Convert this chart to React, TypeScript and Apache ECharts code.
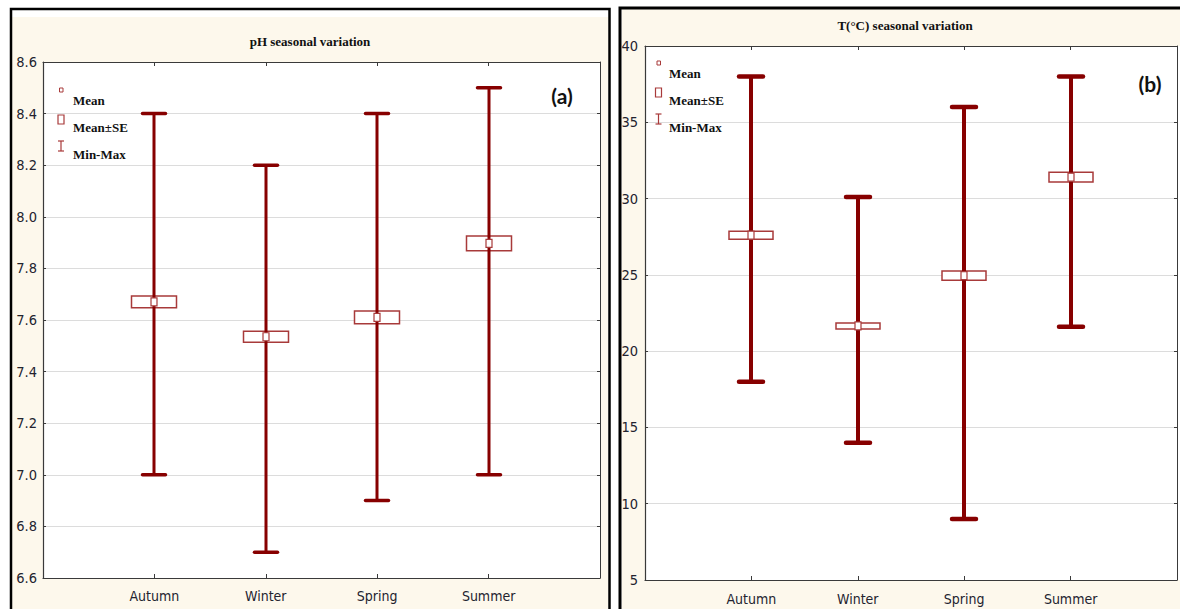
import { useEffect, useRef } from "react";
import * as echarts from "echarts";

// Seasons shown on the x axis (empty slots pad both ends of the axis)
const seasons = ["Autumn", "Winter", "Spring", "Summer"];
const xSlots = ["", ...seasons, ""];

// pH statistics per season
const phMin = [7.0, 6.7, 6.9, 7.0];
const phMax = [8.4, 8.2, 8.4, 8.5];
const phMean = [7.67, 7.535, 7.61, 7.897];
const phSE = [0.023, 0.021, 0.025, 0.029];

// Temperature (°C) statistics per season
const tMin = [18, 14, 9, 21.6];
const tMax = [38, 30.1, 36, 38];
const tMean = [27.6, 21.65, 24.95, 31.4];
const tSE = [0.26, 0.2, 0.3, 0.32];

const legendLabels = ["Mean", "Mean±SE", "Min-Max"];
const panelTitles = ["pH seasonal variation", "T(°C) seasonal variation"];
const panelTags = ["(a)", "(b)"];

const DARK_RED = "#870000";
const BOX_RED = "#a83a3a";
const CREAM = "#fdf8ec";
const GRID_LINE = "#dcdcdc";
const AXIS_LINE = "#3a3a3a";
const LABEL_FONT = '"Liberation Sans Narrow", "DejaVu Sans Condensed", Arial, sans-serif';
const SERIF_FONT = '"Liberation Serif", "Times New Roman", serif';

type MarkStyle = {
  whisker: number;
  capW: number;
  capLine: number;
  boxW: number;
  boxLine: number;
  meanW: number;
  meanH: number;
};

function makeRenderer(st: MarkStyle) {
  return (_params: any, api: any) => {
    const xi = api.value(0);
    const mean = api.value(3);
    const se = api.value(4);
    const lo = api.coord([xi, api.value(1)]);
    const hi = api.coord([xi, api.value(2)]);
    const m = api.coord([xi, mean]);
    const seTop = api.coord([xi, mean + se]);
    const seBot = api.coord([xi, mean - se]);
    const cx = Math.round(lo[0]);
    return {
      type: "group",
      children: [
        {
          type: "rect",
          shape: { x: cx - st.boxW / 2, y: seTop[1], width: st.boxW, height: seBot[1] - seTop[1] },
          style: { fill: "#fff", stroke: BOX_RED, lineWidth: st.boxLine },
        },
        {
          type: "line",
          shape: { x1: cx, y1: hi[1], x2: cx, y2: lo[1] },
          style: { stroke: DARK_RED, lineWidth: st.whisker },
        },
        {
          type: "line",
          shape: { x1: cx - st.capW / 2, y1: hi[1], x2: cx + st.capW / 2, y2: hi[1] },
          style: { stroke: DARK_RED, lineWidth: st.capLine, lineCap: "round" },
        },
        {
          type: "line",
          shape: { x1: cx - st.capW / 2, y1: lo[1], x2: cx + st.capW / 2, y2: lo[1] },
          style: { stroke: DARK_RED, lineWidth: st.capLine, lineCap: "round" },
        },
        {
          type: "rect",
          shape: { x: cx - st.meanW / 2, y: m[1] - st.meanH / 2, width: st.meanW, height: st.meanH },
          style: { fill: "#fff", stroke: BOX_RED, lineWidth: 1.2 },
        },
      ],
    };
  };
}

function legendGraphics(x: number, ys: number[], textX: number) {
  const font = `bold 13px ${SERIF_FONT}`;
  const items: any[] = [];
  // Mean marker
  items.push({
    type: "rect",
    z: 50,
    shape: { x: x - 1.5, y: ys[0] - 12, width: 3.5, height: 4 },
    style: { fill: "#fff", stroke: BOX_RED, lineWidth: 1 },
  });
  // Mean±SE box
  items.push({
    type: "rect",
    z: 50,
    shape: { x: x - 3, y: ys[1] - 12, width: 6, height: 9 },
    style: { fill: "#fff", stroke: BOX_RED, lineWidth: 1.2 },
  });
  // Min-Max bar
  const yT = ys[2] - 13;
  const yB = ys[2] - 3;
  items.push(
    { type: "line", z: 50, shape: { x1: x, y1: yT, x2: x, y2: yB }, style: { stroke: BOX_RED, lineWidth: 1.2 } },
    { type: "line", z: 50, shape: { x1: x - 3, y1: yT, x2: x + 3, y2: yT }, style: { stroke: BOX_RED, lineWidth: 1.2 } },
    { type: "line", z: 50, shape: { x1: x - 3, y1: yB, x2: x + 3, y2: yB }, style: { stroke: BOX_RED, lineWidth: 1.2 } }
  );
  legendLabels.forEach((label, i) => {
    items.push({
      type: "text",
      z: 50,
      x: textX,
      y: ys[i],
      style: {
        text: label,
        font,
        fill: "#111",
        textAlign: "left",
        align: "left",
        textVerticalAlign: "middle",
        verticalAlign: "middle",
      },
    });
  });
  return items;
}

function centeredText(text: string, x: number, y: number, font: string, fill: string) {
  return {
    type: "text",
    z: 50,
    x,
    y,
    style: {
      text,
      font,
      fill,
      textAlign: "center",
      align: "center",
      textVerticalAlign: "middle",
      verticalAlign: "middle",
    },
  };
}

function xAxes(gridIndex: number, labelMargin: number) {
  const tickShown = (_i: number, v: string) => v !== "";
  return [
    {
      type: "category",
      gridIndex,
      data: xSlots,
      boundaryGap: false,
      position: "bottom",
      axisLine: { show: true, lineStyle: { color: AXIS_LINE, width: 1.2 } },
      axisTick: { show: true, inside: true, length: 4, interval: tickShown, lineStyle: { color: AXIS_LINE } },
      axisLabel: {
        interval: 0,
        margin: labelMargin,
        color: "#23232f",
        fontSize: 14,
        fontFamily: LABEL_FONT,
      },
      splitLine: { show: false },
    },
    {
      type: "category",
      gridIndex,
      data: xSlots,
      boundaryGap: false,
      position: "top",
      axisLine: { show: true, lineStyle: { color: AXIS_LINE, width: 1 } },
      axisTick: { show: true, inside: true, length: 4, interval: tickShown, lineStyle: { color: AXIS_LINE } },
      axisLabel: { show: false },
      splitLine: { show: false },
    },
  ];
}

function yAxes(gridIndex: number, min: number, max: number, interval: number, digits: number, margin: number) {
  return [
    {
      type: "value",
      gridIndex,
      min,
      max,
      interval,
      position: "left",
      axisLine: { show: true, lineStyle: { color: AXIS_LINE, width: 1.2 } },
      axisTick: { show: true, inside: true, length: 3, lineStyle: { color: AXIS_LINE } },
      axisLabel: {
        margin,
        color: "#23232f",
        fontSize: 14.5,
        fontFamily: LABEL_FONT,
        formatter: (v: number) => v.toFixed(digits),
      },
      splitLine: { show: true, lineStyle: { color: GRID_LINE, width: 1 } },
    },
    {
      type: "value",
      gridIndex,
      min,
      max,
      interval,
      position: "right",
      axisLine: { show: true, lineStyle: { color: AXIS_LINE, width: 1 } },
      axisTick: { show: true, inside: true, length: 3, lineStyle: { color: AXIS_LINE } },
      axisLabel: { show: false },
      splitLine: { show: false },
    },
  ];
}

export default function App() {
  const ref = useRef<HTMLDivElement>(null);

  useEffect(() => {
    if (!ref.current) return;
    const chart = echarts.init(ref.current, null, { renderer: "svg" });

    const phData = seasons.map((_, i) => [i + 1, phMin[i], phMax[i], phMean[i], phSE[i]]);
    const tData = seasons.map((_, i) => [i + 1, tMin[i], tMax[i], tMean[i], tSE[i]]);

    const phStyle: MarkStyle = { whisker: 3, capW: 23, capLine: 3.5, boxW: 45, boxLine: 1.5, meanW: 6, meanH: 8 };
    const tStyle: MarkStyle = { whisker: 4, capW: 24, capLine: 4.5, boxW: 44, boxLine: 1.5, meanW: 6, meanH: 8 };

    const option: any = {
      animation: false,
      backgroundColor: "#fff",
      grid: [
        { left: 43, top: 62, width: 557, height: 516, containLabel: false },
        { left: 645, top: 46, width: 544, height: 534, containLabel: false },
      ],
      xAxis: [...xAxes(0, 11), ...xAxes(1, 12)],
      yAxis: [...yAxes(0, 6.6, 8.6, 0.2, 1, 6), ...yAxes(1, 5, 40, 5, 0, 7)],
      graphic: [
        // panel (a) frame and background
        { type: "rect", z: -20, shape: { x: 12, y: 17, width: 596, height: 600 }, style: { fill: CREAM } },
        { type: "rect", z: -19, shape: { x: 11, y: 9, width: 598.5, height: 620 }, style: { fill: "none", stroke: "#000", lineWidth: 2.5 } },
        { type: "rect", z: -18, shape: { x: 43, y: 62, width: 557, height: 516 }, style: { fill: "#fff" } },
        // panel (b) frame and background
        { type: "rect", z: -20, shape: { x: 622, y: 9, width: 570, height: 620 }, style: { fill: CREAM } },
        { type: "rect", z: -19, shape: { x: 620, y: 8, width: 580, height: 620 }, style: { fill: "none", stroke: "#000", lineWidth: 3 } },
        { type: "rect", z: -18, shape: { x: 645, y: 46, width: 544, height: 534 }, style: { fill: "#fff" } },
        // titles
        centeredText(panelTitles[0], 310, 41, `bold 13px ${SERIF_FONT}`, "#111"),
        centeredText(panelTitles[1], 905, 25, `bold 13px ${SERIF_FONT}`, "#111"),
        // panel tags
        centeredText(panelTags[0], 562, 95, `bold 21px Lato, "Open Sans", sans-serif`, "#111"),
        centeredText(panelTags[1], 1150, 83, `bold 21px Lato, "Open Sans", sans-serif`, "#111"),
        // legends
        ...legendGraphics(61, [100, 127, 154], 73),
        ...legendGraphics(658.5, [73, 100, 127], 669),
      ],
      series: [
        {
          type: "custom",
          name: "pH",
          xAxisIndex: 0,
          yAxisIndex: 0,
          data: phData,
          encode: { x: 0, y: [1, 2] },
          renderItem: makeRenderer(phStyle),
          z: 5,
        },
        {
          type: "custom",
          name: "T",
          xAxisIndex: 2,
          yAxisIndex: 2,
          data: tData,
          encode: { x: 0, y: [1, 2] },
          renderItem: makeRenderer(tStyle),
          z: 5,
        },
      ],
    };

    chart.setOption(option);
    return () => chart.dispose();
  }, []);

  return (
    <div
      ref={ref}
      style={{ position: "fixed", left: 0, top: 0, width: 1180, height: 609 }}
    />
  );
}
